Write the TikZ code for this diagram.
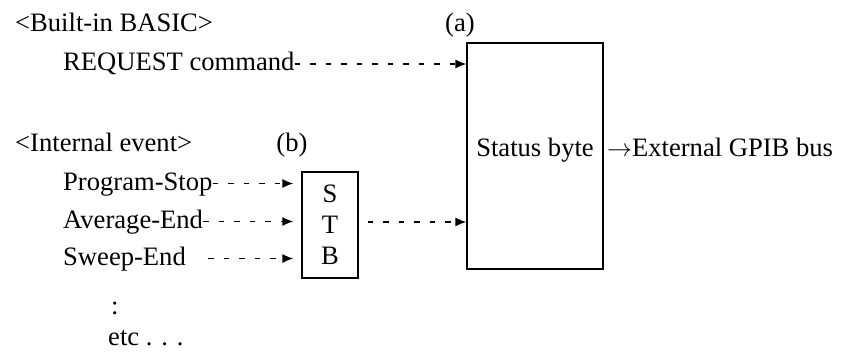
\documentclass[tikz,border=0pt]{standalone}
\usepackage{fontspec}
\setmainfont{Liberation Serif}
\usetikzlibrary{arrows.meta}
\newcommand\fsz{\fontsize{26.6}{28}\selectfont}
\begin{document}
\begin{tikzpicture}[x=1pt,y=-1pt,
  lbl/.style={anchor=base west, inner sep=0pt, font=\fsz},
  lblc/.style={anchor=base, inner sep=0pt, font=\fsz},
  blk/.style={draw, line width=1.3pt, inner sep=0pt, font=\fsz},
  dasharrow/.style={line width=1.4pt, dash pattern=on 5.5pt off 10pt,
    -{Latex[length=11pt,width=9pt]}}]
\useasboundingbox (0,0) rectangle (845,352);
% texts
\node[lbl] (basic) at (15,32) {<Built-in BASIC>};
\node[lblc] (a) at (460,32) {(a)};
\node[lbl] (req) at (63,71) {REQUEST command};
\node[lbl] (intev) at (15,152) {<Internal event>};
\node[lblc] (b) at (292,152) {(b)};
\node[lbl] (ps) at (63,191) {Program-Stop};
\node[lbl] (ae) at (63,229) {Average-End};
\node[lbl] (se) at (63,266) {Sweep-End};
\node[lbl] (dots) at (111,315) {:};
\node[lbl] (etc) at (108,345) {etc . . .};
% boxes
\node[blk, minimum width=136, minimum height=226] (sb) at (535,156) {};
\node[lblc] (sbt) at (535,157) {Status byte};
\node[lbl] (ext) at (607,157) {$\rightarrow$External GPIB bus};
\node[blk, minimum width=56, minimum height=106, align=center] (stb) at (330,225) {S\\[3pt]T\\[3pt]B};
% connector endpoints
\coordinate (reqs) at ([yshift=7pt]req.base east);
\coordinate (pss) at ([yshift=7.5pt]ps.base east);
\coordinate (aes) at ([yshift=7.5pt]ae.base east);
\coordinate (ses) at ([xshift=22pt,yshift=7.5pt]se.base east);
\coordinate (stbin) at ([xshift=-8pt]stb.west);
\coordinate (stbout) at ([xshift=9pt,yshift=3pt]stb.east);
% connectors
\draw[dasharrow] (reqs) -- (reqs -| sb.west);
\draw[dasharrow] (pss) -- (pss -| stbin);
\draw[dasharrow] (aes) -- (aes -| stbin);
\draw[dasharrow] (ses) -- (ses -| stbin);
\draw[dasharrow] (stbout) -- (stbout -| sb.west);
\end{tikzpicture}
\end{document}
